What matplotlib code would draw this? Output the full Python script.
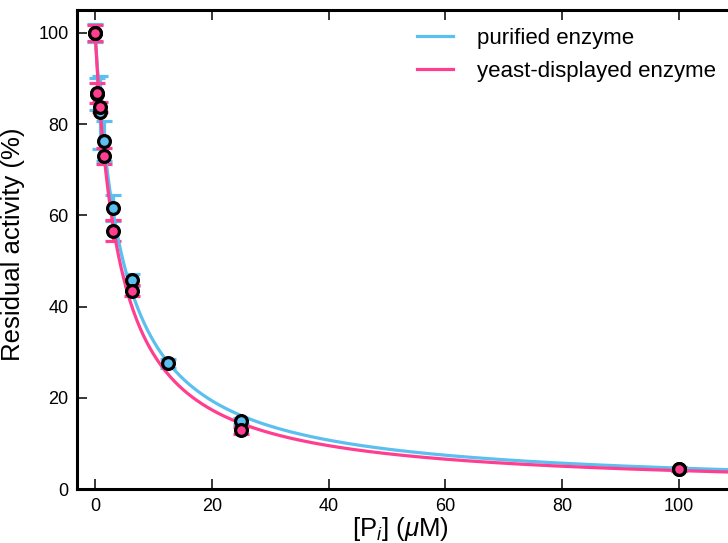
import numpy as np
import matplotlib
matplotlib.use("Agg")
import matplotlib.pyplot as plt

plt.rcParams['font.family'] = ['Liberation Sans', 'DejaVu Sans']
plt.rcParams['mathtext.fontset'] = 'custom'
plt.rcParams['mathtext.rm'] = 'Liberation Sans'
plt.rcParams['mathtext.it'] = 'Liberation Sans:italic'

# ---- data ----
conc = [0, 0.39, 0.78, 1.5625, 3.125, 6.25, 12.5, 25, 100]
purified_y = [100, 86.5, 82.6, 76.3, 61.6, 45.8, 27.6, 14.9, 4.4]
purified_err = [2.0, 3.5, 8.0, 4.3, 2.9, 1.4, 1.0, 0.7, 0.5]
yeast_y = [100, 86.8, 83.7, 73.0, 56.6, 43.5, np.nan, 12.9, 4.4]
yeast_err = [1.8, 2.2, 1.1, 1.7, 2.3, 1.2, np.nan, 0.8, 0.5]
# fitted IC50 (uM) for the drawn fit curves, 100/(1+[Pi]/IC50)
purified_ic50 = 4.8
yeast_ic50 = 4.2
xticks = [0, 20, 40, 60, 80, 100]
yticks = [0, 20, 40, 60, 80, 100]

blue = '#5BBFEF'
pink = '#FF3E8F'

W, H = 728, 543
fig = plt.figure(figsize=(W / 100, H / 100), dpi=100)
ax = fig.add_axes([77 / W, 54 / H, 666 / W, 479 / H])

ax.errorbar(conc, purified_y, yerr=purified_err, fmt='none', ecolor=blue,
            elinewidth=2.3, capsize=5.5, capthick=2.3, zorder=1)
ax.errorbar(conc, yeast_y, yerr=yeast_err, fmt='none', ecolor=pink,
            elinewidth=2.3, capsize=5.5, capthick=2.3, zorder=1.5)

xf = np.linspace(0, 112, 600)
ax.plot(xf, 100 / (1 + xf / purified_ic50), color=blue, lw=2.3, zorder=2,
        label='purified enzyme')
ax.plot(xf, 100 / (1 + xf / yeast_ic50), color=pink, lw=2.3, zorder=2.5,
        label='yeast-displayed enzyme')

ax.plot(conc, purified_y, 'o', ms=8.5, mfc=blue, mec='black', mew=2.3,
        zorder=3, clip_on=False)
ax.plot(conc, yeast_y, 'o', ms=8.5, mfc=pink, mec='black', mew=2.3,
        zorder=3.5, clip_on=False)

ax.set_xlim(-3.1, 111)
ax.set_ylim(0, 105)
ax.set_xticks(xticks)
ax.set_yticks(yticks)
for s in ax.spines.values():
    s.set_linewidth(2.2)
ax.tick_params(direction='in', length=7, width=1.1, labelsize=13,
               top=True, right=True)
ax.tick_params(axis='x', pad=6.5)
ax.tick_params(axis='y', pad=6)

ax.set_xlabel(r'[P$_{i}$] ($\mu$M)', fontsize=18.5)
ax.xaxis.set_label_coords((400 - 77) / 666, -(515 - 489) / 479)
ax.set_ylabel('Residual activity (%)', fontsize=18.5)
ax.yaxis.set_label_coords(-(77 - 25) / 666, (489 - 244) / 479)

ax.legend(loc='upper left', bbox_to_anchor=(417 / W, 1 - 28 / H),
          bbox_transform=fig.transFigure, frameon=False, fontsize=16,
          handlelength=1.6, handletextpad=1.1, labelspacing=0.55,
          borderpad=0, borderaxespad=0)

fig.savefig('out.png', dpi=100)
